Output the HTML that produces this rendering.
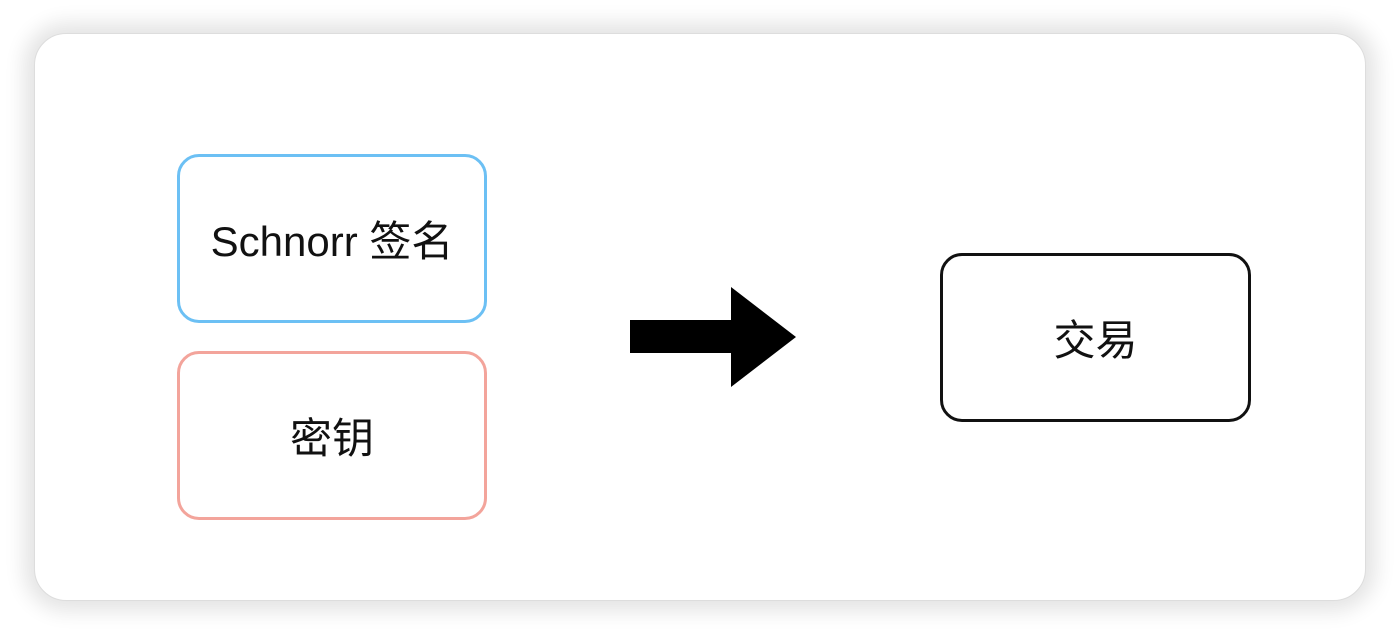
<!DOCTYPE html>
<html><head><meta charset="utf-8"><style>
html,body{margin:0;padding:0;background:#fff;}
body{width:1400px;height:635px;position:relative;overflow:hidden;font-family:"Liberation Sans","Noto Sans CJK SC",sans-serif;}
.card{position:absolute;left:34px;top:33px;width:1332px;height:568px;border-radius:32px;background:#fff;box-shadow:0 0 20px 10px rgba(0,0,0,0.11);border:1px solid #ddd;box-sizing:border-box;}
.box{position:absolute;box-sizing:border-box;border:3px solid;border-radius:22px;display:flex;align-items:center;justify-content:center;font-size:42px;color:#111;background:#fff;}
</style></head><body>
<div class="card"></div>
<div class="box" style="left:177px;top:154px;width:310px;height:169px;border-color:#6cc0f4;">Schnorr 签名</div>
<div class="box" style="left:177px;top:351px;width:310px;height:169px;border-color:#f3a49b;">密钥</div>
<div class="box" style="left:940px;top:253px;width:311px;height:169px;border-color:#111;">交易</div>
<svg style="position:absolute;left:0;top:0" width="1400" height="635">
<polygon points="630,320 731,320 731,287 796,337 731,387 731,353 630,353" fill="#000"/>
</svg>
</body></html>
